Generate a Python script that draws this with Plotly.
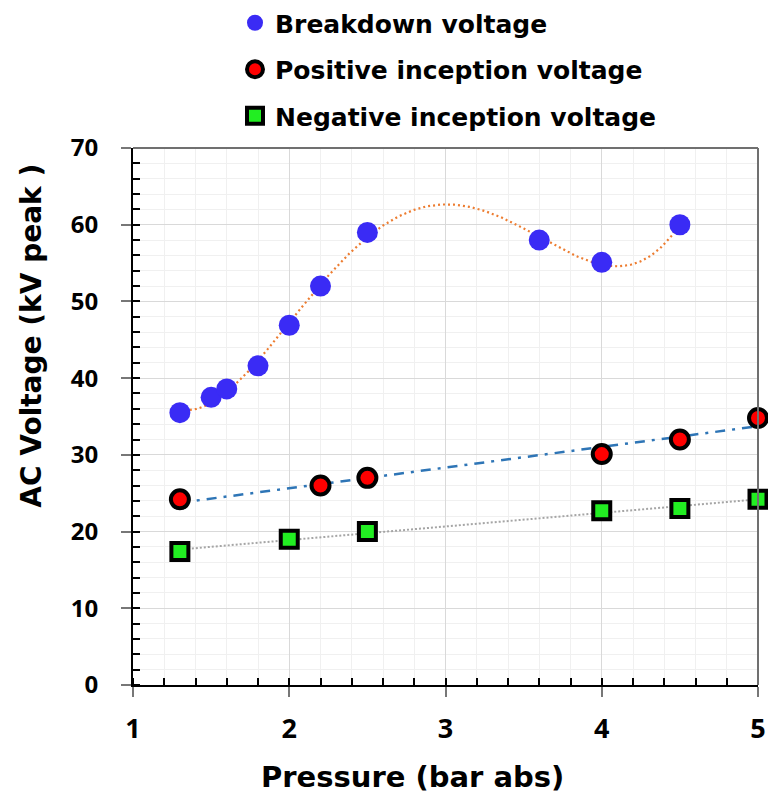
import numpy as np
import plotly.graph_objects as go

# Data
bd_x = [1.3, 1.5, 1.6, 1.8, 2.0, 2.2, 2.5, 3.6, 4.0, 4.5]
bd_y = [35.5, 37.5, 38.6, 41.6, 46.9, 52.0, 59.0, 58.0, 55.1, 60.0]
pos_x = [1.3, 2.2, 2.5, 4.0, 4.5, 5.0]
pos_y = [24.2, 26.0, 27.0, 30.1, 32.0, 34.8]
neg_x = [1.3, 2.0, 2.5, 4.0, 4.5, 5.0]
neg_y = [17.4, 19.0, 20.0, 22.7, 23.0, 24.2]

TICKFONT = "Open Sans"
TEXTFONT = "DejaVu Sans"

fig = go.Figure()


def fit(xs, ys, deg):
    c = np.polyfit(xs, ys, deg)
    xx = np.linspace(min(xs), max(xs), 300)
    return xx, np.polyval(c, xx)


# trend lines (fitted to the data)
xx, yy = fit(bd_x, bd_y, 5)
fig.add_trace(go.Scatter(x=xx, y=yy, mode="lines", showlegend=False, hoverinfo="skip",
                         line=dict(color="#ED7D31", width=2.2, dash="2px,3px")))
xx, yy = fit(pos_x, pos_y, 1)
fig.add_trace(go.Scatter(x=xx, y=yy, mode="lines", showlegend=False, hoverinfo="skip",
                         line=dict(color="#2E75B6", width=2.5, dash="10px,7px,3px,7px")))
xx, yy = fit(neg_x, neg_y, 1)
fig.add_trace(go.Scatter(x=xx, y=yy, mode="lines", showlegend=False, hoverinfo="skip",
                         line=dict(color="#A5A5A5", width=2, dash="2px,2px")))

# data markers
fig.add_trace(go.Scatter(x=bd_x, y=bd_y, mode="markers", name="Breakdown voltage",
                         legendgroup="a",
                         marker=dict(symbol="circle", size=21, color="#3A2BF5"), cliponaxis=False))
fig.add_trace(go.Scatter(x=pos_x, y=pos_y, mode="markers", name="Positive inception voltage",
                         legendgroup="b",
                         marker=dict(symbol="circle", size=18, color="#FF0000",
                                     line=dict(color="black", width=4)), cliponaxis=False))
fig.add_trace(go.Scatter(x=neg_x, y=neg_y, mode="markers", name="Negative inception voltage",
                         legendgroup="c",
                         marker=dict(symbol="square", size=17, color="#22EE22",
                                     line=dict(color="black", width=4)), cliponaxis=False))

fig.update_layout(
    width=768, height=801,
    margin=dict(l=133, r=10, t=148, b=116, autoexpand=False),
    plot_bgcolor="white", paper_bgcolor="white",
    font=dict(family=TEXTFONT, color="black"),
    showlegend=True,
    legend=dict(x=235 / 768, y=1.003, xref="container", yref="container",
                xanchor="left", yanchor="top",
                font=dict(size=25, family=TEXTFONT, weight="bold", color="black"),
                bgcolor="rgba(0,0,0,0)", tracegroupgap=11, itemsizing="trace"),
    xaxis=dict(range=[1, 5], dtick=1, tick0=1, showgrid=True, gridcolor="#D9D9D9", gridwidth=1,
               showline=True, linecolor="black", linewidth=2, automargin=False,
               ticks="outside", ticklen=10, tickcolor="#777777", tickwidth=1.5,
               tickfont=dict(size=27, family=TICKFONT, weight="bold", color="black"),
               ticklabelstandoff=9,
               minor=dict(dtick=0.2, ticks="inside", ticklen=7, tickcolor="black",
                          showgrid=True, gridcolor="#F0F0F0"),
               zeroline=False),
    yaxis=dict(range=[0, 70], dtick=10, tick0=0, showgrid=True, gridcolor="#D9D9D9", gridwidth=1,
               showline=True, linecolor="black", linewidth=2, automargin=False,
               ticks="outside", ticklen=10, tickcolor="#777777", tickwidth=1.5,
               tickfont=dict(size=24, family=TICKFONT, weight="bold", color="black"),
               ticklabelstandoff=18,
               minor=dict(dtick=2, ticks="inside", ticklen=7, tickcolor="black",
                          showgrid=True, gridcolor="#F0F0F0"),
               zeroline=False),
    annotations=[
        dict(text="AC Voltage (kV peak )", textangle=-90, xref="paper", yref="paper",
             x=-0.162, y=0.65, xanchor="center", yanchor="middle", showarrow=False,
             font=dict(size=28, family=TEXTFONT, weight="bold", color="black")),
        dict(text="Pressure (bar abs)", xref="paper", yref="paper",
             x=(412 - 133) / 625, y=-(777 - 685) / 537, xanchor="center", yanchor="middle",
             showarrow=False,
             font=dict(size=29, family=TEXTFONT, weight="bold", color="black")),
    ],
    shapes=[
        dict(type="line", xref="paper", yref="paper", x0=0, x1=1, y0=1, y1=1,
             line=dict(color="#707070", width=2)),
        dict(type="line", xref="paper", yref="paper", x0=1, x1=1, y0=0, y1=1,
             line=dict(color="#707070", width=2)),
    ],
)

fig.write_html("out.html")
